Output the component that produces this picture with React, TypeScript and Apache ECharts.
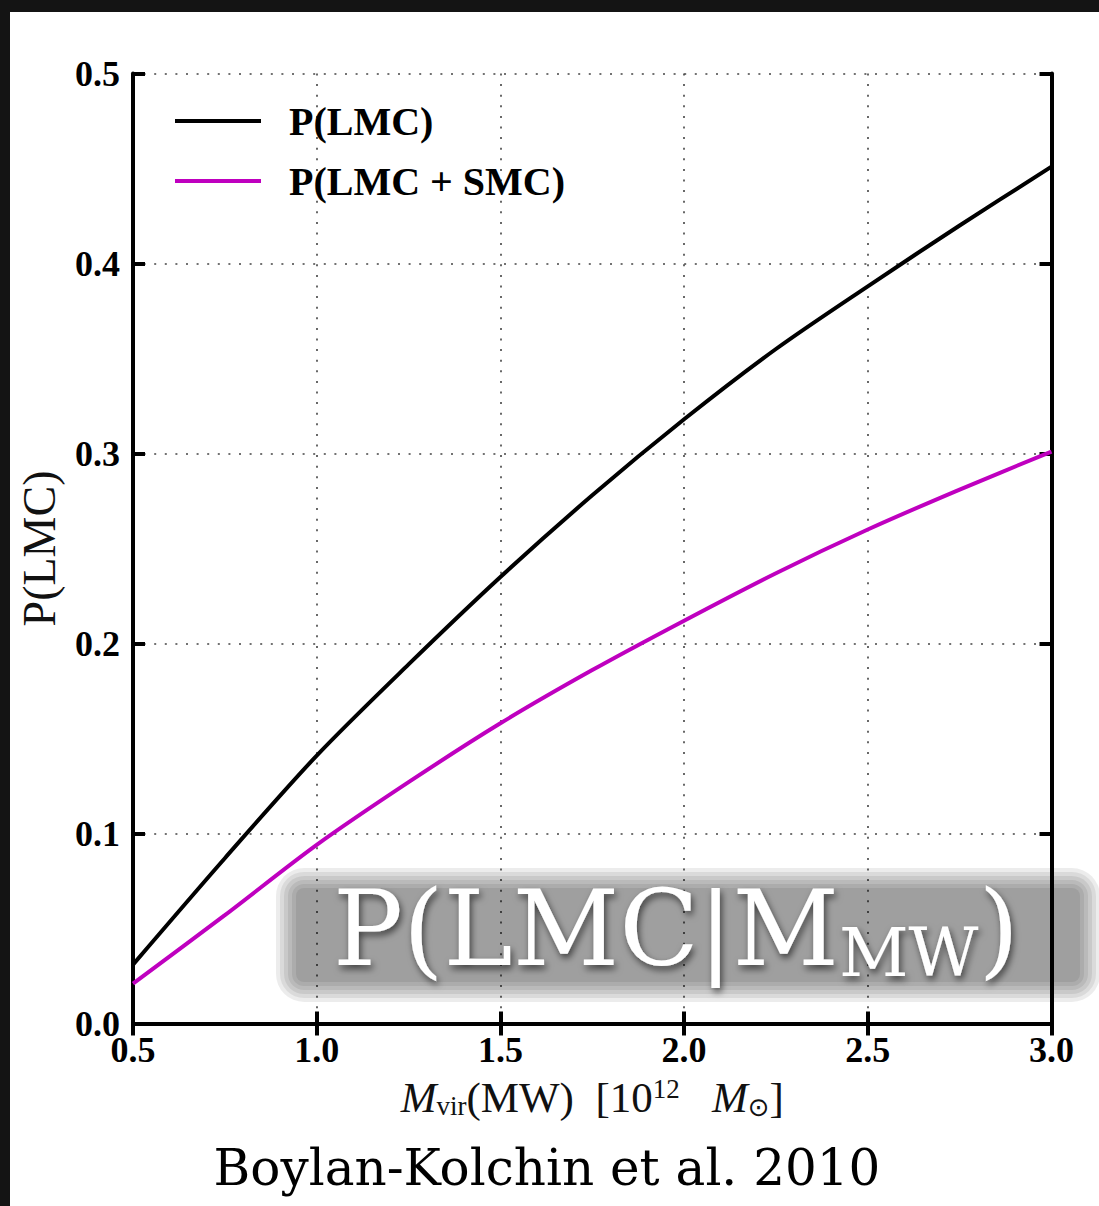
import React, { useEffect, useRef } from 'react';
import * as echarts from 'echarts';

// Milky Way virial mass, 10^12 Msun
const massValues = [0.5, 0.75, 1.0, 1.25, 1.5, 1.75, 2.0, 2.25, 2.5, 2.75, 3.0];
// probability of hosting an LMC
const pLMC = [0.031, 0.087, 0.141, 0.189, 0.235, 0.278, 0.318, 0.355, 0.388, 0.42, 0.451];
// probability of hosting an LMC and an SMC
const pLMCSMC = [0.021, 0.057, 0.094, 0.127, 0.158, 0.186, 0.212, 0.237, 0.26, 0.281, 0.301];
const seriesNames = ['P(LMC)', 'P(LMC + SMC)'];
const seriesColors = ['#000000', '#bf00bf'];
const xRange = [0.5, 3.0];
const yRange = [0.0, 0.5];
const xStep = 0.5;
const yStep = 0.1;
const overlayTitle = '{a|P(LMC}{bar||}{a|M}{s|MW}{a|)}';
const citation = 'Boylan-Kolchin et al. 2010';

const W = 1099;
const H = 1206;
const GRID = { left: 133, top: 73.5, right: 47.5, bottom: 182.5 };

function blurredBox(x: number, y: number, w: number, h: number, layers: number, step: number, alpha: number) {
  const out: any[] = [];
  for (let i = layers; i >= 0; i--) {
    out.push({
      type: 'rect',
      shape: { x: x - i * step, y: y - i * step, width: w + 2 * i * step, height: h + 2 * i * step, r: 8 + i * step },
      style: { fill: `rgba(0,0,0,${alpha})` },
      z: 50,
      silent: true,
    });
  }
  return out;
}

export default function App() {
  const ref = useRef<HTMLDivElement>(null);
  useEffect(() => {
    document.body.style.margin = '0';
    if (!ref.current) return;
    const chart = echarts.init(ref.current, undefined, { renderer: 'svg' });
    const serif = 'Liberation Serif';
    const axisLine = { show: true, lineStyle: { color: '#000', width: 4 } };
    const axisTick = { show: true, inside: true, length: 12, lineStyle: { color: '#000', width: 4 } };
    const split = { show: true, lineStyle: { color: '#444', width: 1.6, type: [2, 8.6] } };
    const tickLabel = {
      show: true,
      fontFamily: serif,
      fontWeight: 'bold',
      fontSize: 36,
      color: '#000',
      formatter: (v: number) => v.toFixed(1),
    };
    const option: any = {
      animation: false,
      backgroundColor: '#ffffff',
      grid: { ...GRID, containLabel: false },
      legend: {
        orient: 'vertical',
        left: 175,
        top: 101,
        padding: 0,
        icon: 'rect',
        itemWidth: 86,
        itemHeight: 4,
        itemGap: 20,
        data: seriesNames,
        textStyle: {
          fontFamily: serif,
          fontWeight: 'bold',
          fontSize: 40,
          color: '#000',
          lineHeight: 40,
          padding: [0, 0, 0, 23],
        },
      },
      xAxis: [
        {
          type: 'value',
          position: 'bottom',
          min: xRange[0],
          max: xRange[1],
          interval: xStep,
          axisLine,
          axisTick,
          splitLine: split,
          axisLabel: { ...tickLabel, margin: 8 },
          name: '{mi|M}{sub|vir}{rm|(MW)  [10}{sup|12}{rm|   }{mi|M}{sub2|⊙}{rm|]}',
          nameLocation: 'middle',
          nameGap: 52,
          nameTextStyle: {
            rich: {
              mi: { fontFamily: serif, fontStyle: 'italic', fontSize: 43, lineHeight: 44, color: '#111' },
              rm: { fontFamily: serif, fontSize: 43, lineHeight: 44, color: '#111' },
              sub: { fontFamily: serif, fontSize: 27, lineHeight: 14, verticalAlign: 'bottom', color: '#111' },
              sub2: { fontFamily: 'DejaVu Sans', fontSize: 26, lineHeight: 12, verticalAlign: 'bottom', color: '#111' },
              sup: { fontFamily: serif, fontSize: 27, lineHeight: 28, verticalAlign: 'top', color: '#111' },
            },
          },
        },
        {
          type: 'value',
          position: 'top',
          min: xRange[0],
          max: xRange[1],
          interval: xStep,
          axisLine,
          axisTick,
          splitLine: { show: false },
          axisLabel: { show: false },
        },
      ],
      yAxis: [
        {
          type: 'value',
          position: 'left',
          min: yRange[0],
          max: yRange[1],
          interval: yStep,
          axisLine,
          axisTick,
          splitLine: split,
          axisLabel: { ...tickLabel, margin: 13 },
          name: 'P(LMC)',
          nameLocation: 'middle',
          nameGap: 71,
          nameTextStyle: { fontFamily: serif, fontSize: 46, color: '#111' },
        },
        {
          type: 'value',
          position: 'right',
          min: yRange[0],
          max: yRange[1],
          interval: yStep,
          axisLine,
          axisTick,
          splitLine: { show: false },
          axisLabel: { show: false },
        },
      ],
      series: [pLMC, pLMCSMC].map((vals, i) => ({
        name: seriesNames[i],
        type: 'line',
        xAxisIndex: 0,
        yAxisIndex: 0,
        data: massValues.map((m, j) => [m, vals[j]]),
        smooth: 0.3,
        symbol: 'none',
        showSymbol: false,
        color: seriesColors[i],
        lineStyle: { color: seriesColors[i], width: 4 },
        z: 3,
      })),
      graphic: [
        { type: 'rect', shape: { x: 0, y: 0, width: W, height: 12 }, style: { fill: '#141414' }, z: 100 },
        { type: 'rect', shape: { x: 0, y: 0, width: 10, height: H }, style: { fill: '#141414' }, z: 100 },
        ...blurredBox(296, 888, 784, 94, 5, 4, 0.075),
        {
          type: 'text',
          x: 676,
          y: 929,
          z: 51,
          style: {
            text: overlayTitle,
            align: 'center',
            verticalAlign: 'middle',
            textShadowBlur: 7,
            textShadowColor: 'rgba(0,0,0,0.6)',
            textShadowOffsetX: 2,
            textShadowOffsetY: 4,
            rich: {
              a: { fontFamily: 'DejaVu Serif', fontSize: 104, lineHeight: 114, fill: '#ffffff' },
              bar: { fontFamily: 'DejaVu Sans', fontSize: 100, lineHeight: 114, fill: '#ffffff' },
              s: { fontFamily: 'DejaVu Serif', fontSize: 68, lineHeight: 72, verticalAlign: 'bottom', fill: '#ffffff' },
            },
          },
        },
        {
          type: 'text',
          x: 547,
          y: 1168,
          z: 51,
          style: {
            text: citation,
            align: 'center',
            verticalAlign: 'middle',
            fontFamily: 'DejaVu Serif',
            fontSize: 50,
            fill: '#000',
          },
        },
      ],
    };
    chart.setOption(option);
    return () => chart.dispose();
  }, []);
  return <div ref={ref} style={{ width: W, height: H }} />;
}
